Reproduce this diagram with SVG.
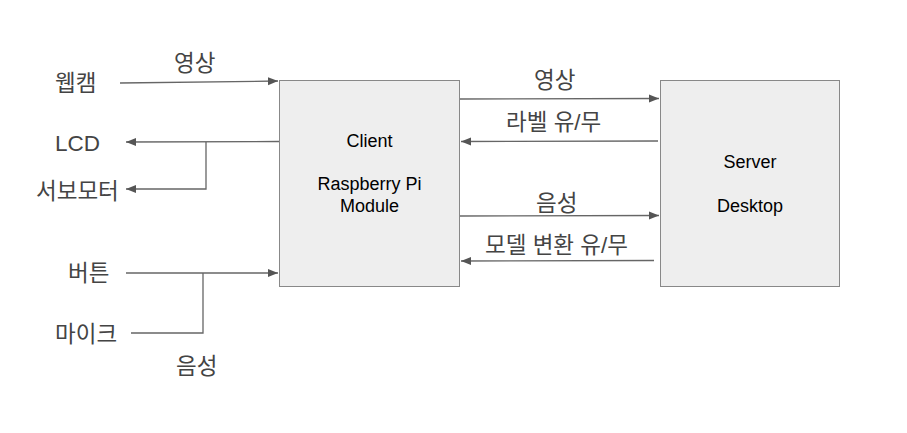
<svg xmlns="http://www.w3.org/2000/svg" width="907" height="433" viewBox="0 0 907 433">
<defs>
<style>
.box{fill:#eeeeee;stroke:#888888;stroke-width:1}
.bt{font-family:"Liberation Sans",Arial,sans-serif;font-size:18px;fill:#000;text-anchor:middle}
.lb{font-family:"Liberation Sans","Noto Sans CJK KR",sans-serif;font-size:22.5px;fill:#444444}
.ln{fill:none;stroke:#666666;stroke-width:1.3}
</style>
<marker id="ah" viewBox="0 0 10 10" refX="10" refY="5" markerWidth="10" markerHeight="10" markerUnits="userSpaceOnUse" orient="auto">
<path d="M0,1 L10,5 L0,9 Z" fill="#555555"/>
</marker>
</defs>
<rect width="907" height="433" fill="#ffffff"/>
<g id="client">
<rect class="box" x="279.5" y="80.5" width="180" height="206"/>
<text class="bt" x="369.5" y="147">Client</text>
<text class="bt" x="369.5" y="190">Raspberry Pi</text>
<text class="bt" x="369.5" y="212">Module</text>
</g>
<g id="server">
<rect class="box" x="660.5" y="80.5" width="179" height="206"/>
<text class="bt" x="750" y="168">Server</text>
<text class="bt" x="750" y="212">Desktop</text>
</g>
<g id="labels">
<text class="lb" x="55" y="91">웹캠</text>
<text class="lb" x="174" y="71">영상</text>
<text class="lb" x="55" y="151">LCD</text>
<text class="lb" x="36" y="199">서보모터</text>
<text class="lb" x="68" y="281">버튼</text>
<text class="lb" x="55" y="342">마이크</text>
<text class="lb" x="176" y="374">음성</text>
<text class="lb" x="534" y="88">영상</text>
<text class="lb" x="506" y="130">라벨 유/무</text>
<text class="lb" x="536" y="211">음성</text>
<text class="lb" x="485" y="253">모델 변환 유/무</text>
</g>
<g id="connectors">
<path class="ln" d="M120,83 L278,81" marker-end="url(#ah)"/>
<path class="ln" d="M279,141.5 L126,142" marker-end="url(#ah)"/>
<path class="ln" d="M206,142 L206,189 L126,189" marker-end="url(#ah)"/>
<path class="ln" d="M126,273 L278,273" marker-end="url(#ah)"/>
<path class="ln" d="M131,333 L203,333 L203,273"/>
<path class="ln" d="M460,99 L659,98.5" marker-end="url(#ah)"/>
<path class="ln" d="M658,141 L461,141.5" marker-end="url(#ah)"/>
<path class="ln" d="M460,216 L659,215.5" marker-end="url(#ah)"/>
<path class="ln" d="M654,260.5 L461,261" marker-end="url(#ah)"/>
</g>
</svg>
